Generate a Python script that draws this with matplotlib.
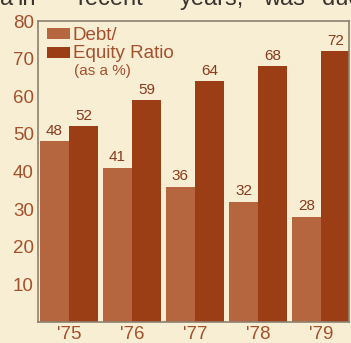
import matplotlib
matplotlib.use("Agg")
import matplotlib.pyplot as plt
from matplotlib.patches import Rectangle
import numpy as np

years = ["'75", "'76", "'77", "'78", "'79"]
debt = [48, 41, 36, 32, 28]
equity = [52, 59, 64, 68, 72]
yticks = [10, 20, 30, 40, 50, 60, 70, 80]

bg = "#f8eed4"
light = "#b6663e"
dark = "#9b3d15"
txt = "#a5502c"
frame = "#8c8070"

plt.rcParams["font.family"] = ["Liberation Sans", "DejaVu Sans"]

fig = plt.figure(figsize=(3.51, 3.43), dpi=100, facecolor=bg)
W, H = 351, 343
L, R, T, B = 38, 349, 21, 322
ax = fig.add_axes([L / W, (H - B) / H, (R - L) / W, (B - T) / H])
ax.set_facecolor(bg)

x = np.arange(len(years))
w = 0.46
b1 = ax.bar(x - w / 2, debt, width=w, color=light, linewidth=0)
b2 = ax.bar(x + w / 2, equity, width=w, color=dark, linewidth=0)

for bars, vals in [(b1, debt), (b2, equity)]:
    for rect, v in zip(bars, vals):
        ax.annotate(str(v), (rect.get_x() + rect.get_width() / 2, v),
                    xytext=(0, 2.5), textcoords="offset points", ha="center",
                    va="bottom", fontsize=11, color="#8a3a1c")

ax.set_xlim(-0.49, 4.444)
ax.set_ylim(0, 80)
ax.set_yticks(yticks)
ax.set_yticklabels([str(t) for t in yticks])
ax.set_xticks(x)
ax.set_xticklabels(years)
ax.tick_params(axis="both", length=0, colors=txt, labelsize=13.5)
ax.tick_params(axis="y", pad=3)
ax.tick_params(axis="x", pad=3)
for s in ["left", "top", "bottom", "right"]:
    ax.spines[s].set_color(frame)
    ax.spines[s].set_linewidth(1.2)

# legend block
def px_to_axes(px, py):
    return ((px - L) / (R - L), (B - py) / (B - T))

for y0, c in [(28, light), (47, dark)]:
    xa, ya = px_to_axes(47, y0 + 11)
    ax.add_patch(Rectangle((xa, ya), 23 / (R - L), 11 / (B - T),
                           transform=ax.transAxes, color=c, lw=0, zorder=5))
tx, ty = px_to_axes(73, 35)
ax.text(tx, ty, "Debt/", transform=ax.transAxes, fontsize=13.5, color=txt,
        va="center", ha="left", zorder=6)
tx, ty = px_to_axes(73, 53)
ax.text(tx, ty, "Equity Ratio", transform=ax.transAxes, fontsize=13.5,
        color=txt, va="center", ha="left", zorder=6)
tx, ty = px_to_axes(74, 71)
ax.text(tx, ty, "(as a %)", transform=ax.transAxes, fontsize=11, color=txt,
        va="center", ha="left", zorder=6)

# running text of the page above the chart
words = [("a", 0), ("in", 17), ("recent", 77), ("years,", 180),
         ("was", 263), ("due", 322)]
for wd, px in words:
    fig.text(px / W, 1 - 5 / H, wd, fontsize=17, color="#3a3430",
             ha="left", va="baseline")

fig.savefig("out.png", dpi=100, facecolor=bg)
